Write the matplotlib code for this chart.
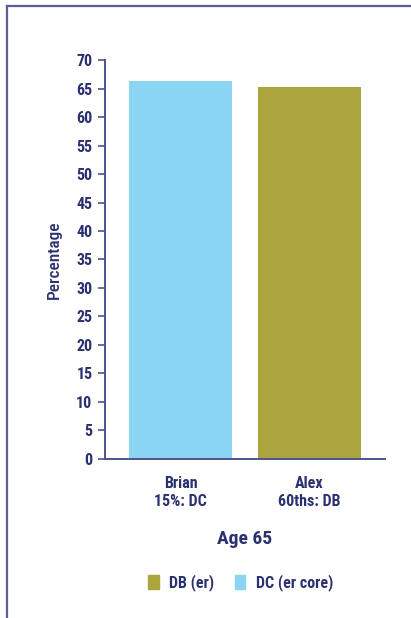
import matplotlib
matplotlib.use('Agg')
import matplotlib.pyplot as plt
from matplotlib.patches import Patch
from matplotlib.lines import Line2D

names = ['Brian\n15%: DC', 'Alex\n60ths: DB']
values = [66.3, 65.3]
colors = ['#89d5f3', '#aba43f']
legend_labels = ['DB (er)', 'DC (er core)']
yticks = list(range(0, 75, 5))

TEXT = '#2b3070'
AXIS = '#4e5390'

plt.rcParams['font.family'] = ['Roboto Condensed', 'DejaVu Sans']
plt.rcParams['font.weight'] = 'semibold'

fig = plt.figure(figsize=(4.11, 6.18), dpi=100)
ax = fig.add_axes([0.2555, 0.2573, 0.681, 0.6456])

ax.bar(range(len(values)), values, width=0.8, color=colors)
ax.set_xlim(-0.585, 1.585)
ax.set_ylim(0, 70)
ax.set_yticks(yticks)
ax.set_xticks(range(len(names)))
ax.set_xticklabels(names, fontsize=11.5, color=TEXT, linespacing=1.3)
ax.tick_params(axis='y', colors=AXIS, labelcolor=TEXT, labelsize=11.5, length=5, width=1.2, pad=4)
ax.tick_params(axis='x', length=0, pad=12)

for s in ['top', 'right']:
    ax.spines[s].set_visible(False)
for s in ['left', 'bottom']:
    ax.spines[s].set_color(AXIS)
    ax.spines[s].set_linewidth(1.4)

ax.set_ylabel('Percentage', fontsize=12.5, color=TEXT, labelpad=10, fontweight='medium')
ax.set_xlabel('Age 65', fontsize=14, color=TEXT, labelpad=15, fontweight='semibold')

handles = [Patch(color=colors[1]), Patch(color=colors[0])]
fig.legend(handles, legend_labels, loc='center', bbox_to_anchor=(0.586, 0.057),
           ncol=2, frameon=False, fontsize=11.5, labelcolor=TEXT,
           handlelength=0.65, handleheight=0.9, handletextpad=0.65, columnspacing=1.3)

# outer border (top and left only visible)
fig.add_artist(Line2D([7/411, 7/411], [0, 1 - 6/618], color='#5a5f95', lw=1.6, transform=fig.transFigure))
fig.add_artist(Line2D([7/411, 1], [1 - 6/618, 1 - 6/618], color='#5a5f95', lw=1.6, transform=fig.transFigure))

fig.savefig('out.png', dpi=100)
